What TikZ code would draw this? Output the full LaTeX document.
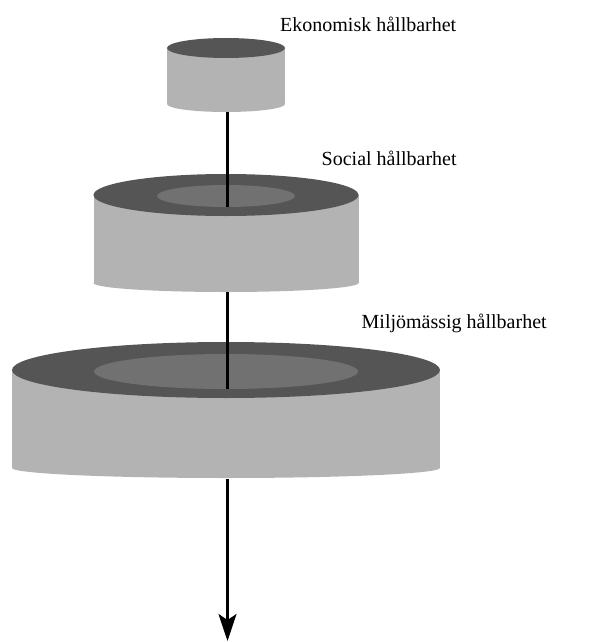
\documentclass[tikz,border=0pt]{standalone}
\usepackage{fontspec}
\setmainfont{Liberation Serif}
\usetikzlibrary{arrows.meta}
\definecolor{topc}{HTML}{555555}
\definecolor{innerc}{HTML}{717171}
\definecolor{sidec}{HTML}{B3B3B3}
\tikzset{
  sidefill/.style={fill=sidec, draw=none},
  topfill/.style={fill=topc, draw=none},
  innerfill/.style={fill=innerc, draw=none},
  axis/.style={line width=2.5pt, black},
  lbl/.style={anchor=base west, inner sep=0pt, font=\fontsize{20}{24}\selectfont},
}
\begin{document}
\begin{tikzpicture}[x=1pt,y=-1pt]
\useasboundingbox (0,0) rectangle (591,642);
% top cylinder
\fill[sidefill] (167,48) rectangle (285,104);
\fill[sidefill] (226,104) ellipse [x radius=59, y radius=8];
\fill[topfill] (226,48) ellipse [x radius=59, y radius=10];
% middle cylinder
\fill[sidefill] (93.5,195) rectangle (358.5,283);
\fill[sidefill] (226,283) ellipse [x radius=132.5, y radius=9];
\fill[topfill] (226,195) ellipse [x radius=132.5, y radius=21];
\fill[innerfill] (226,196) ellipse [x radius=69, y radius=11];
% bottom cylinder
\fill[sidefill] (12,370) rectangle (440,468);
\fill[sidefill] (226,468) ellipse [x radius=214, y radius=10];
\fill[topfill] (226,370) ellipse [x radius=214, y radius=28];
\fill[innerfill] (226,371.5) ellipse [x radius=132, y radius=17.5];
% axis
\coordinate (a1) at (227.5,112);
\coordinate (a2) at (227.5,207);
\coordinate (b1) at (227.5,292);
\coordinate (b2) at (227.5,389);
\coordinate (c1) at (227.5,479);
\coordinate (c2) at (227.5,641);
\draw[axis] (a1) -- (a2);
\draw[axis] (b1) -- (b2);
\draw[axis, -{Stealth[length=27pt, width=18pt, inset=6pt]}] (c1) -- (c2);
% labels
\node[lbl] (l1) at (280,31.5) {Ekonomisk hållbarhet};
\node[lbl] (l2) at (321.5,165) {Social hållbarhet};
\node[lbl] (l3) at (361.5,328) {Miljömässig hållbarhet};
\end{tikzpicture}
\end{document}
